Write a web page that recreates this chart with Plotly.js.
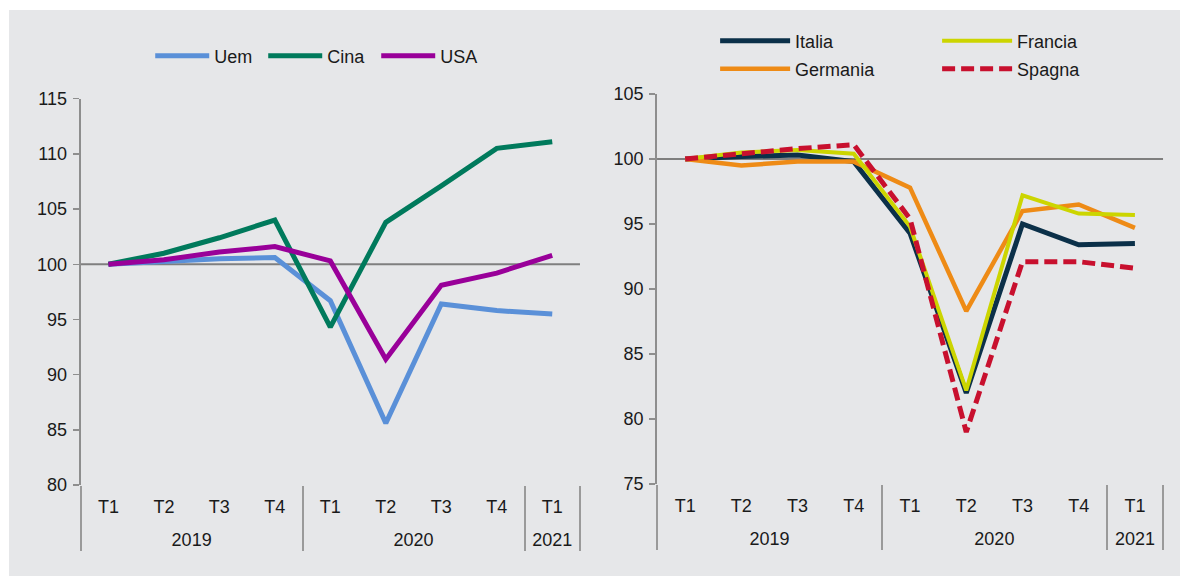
<!DOCTYPE html>
<html><head><meta charset="utf-8">
<script src="https://cdn.plot.ly/plotly-3.0.1.min.js"></script>
<style>
html,body{margin:0;padding:0;background:#ffffff;}
#chart{position:absolute;left:9px;top:10px;width:1171px;height:566px;}
</style></head><body><div id="chart"></div>
<script>
const years = ['2019','2019','2019','2019','2020','2020','2020','2020','2021'];
const quarters = ['T1','T2','T3','T4','T1','T2','T3','T4','T1'];
const uem = [100, 100.3, 100.5, 100.6, 96.7, 85.6, 96.4, 95.8, 95.5];
const cina = [100, 101.0, 102.4, 104.0, 94.3, 103.8, 107.1, 110.5, 111.1];
const usa = [100, 100.4, 101.1, 101.6, 100.3, 91.4, 98.1, 99.2, 100.8];
const italia = [100, 100.2, 100.3, 99.8, 94.3, 82.0, 95.0, 93.4, 93.5];
const francia = [100, 100.5, 100.7, 100.4, 94.8, 82.2, 97.2, 95.8, 95.7];
const germania = [100, 99.5, 99.8, 99.8, 97.8, 88.3, 96.0, 96.5, 94.7];
const spagna = [100, 100.4, 100.8, 101.1, 95.4, 79.0, 92.1, 92.1, 91.6];
const baseline = 100;

// category positions on the axis
const idx = quarters.map((q, i) => i);
const yearNames = [...new Set(years)];
const yearCenters = yearNames.map(yr => {
  const ii = idx.filter(i => years[i] === yr);
  return (ii[0] + ii[ii.length - 1]) / 2;
});
const bounds = [-0.5];
for (let i = 1; i < years.length; i++) if (years[i] !== years[i-1]) bounds.push(i - 0.5);
bounds.push(years.length - 0.5);
const xr = [-0.5, years.length - 0.5];

function tr(name, y, color, width, xa, ya, legend, dash) {
  return {type:'scatter', mode:'lines', name:name, x:idx, y:y, xaxis:xa, yaxis:ya, legend:legend,
    line:{color:color, width:width, dash:dash||'solid'}, hoverinfo:'skip'};
}
const data = [
  tr('Uem', uem, '#5a90d8', 5, 'x', 'y', 'legend'),
  tr('Cina', cina, '#007a5c', 5, 'x', 'y', 'legend'),
  tr('USA', usa, '#990099', 5, 'x3', 'y', 'legend'),
  tr('Italia', italia, '#0b3049', 5, 'x2', 'y2', 'legend2'),
  tr('Germania', germania, '#ee8b16', 4.5, 'x2', 'y2', 'legend3'),
  tr('Francia', francia, '#ccd500', 4, 'x2', 'y2', 'legend2'),
  tr('Spagna', spagna, '#c8102e', 5, 'x4', 'y2', 'legend3', '13px,6px')
];
const axisGrey = '#8e8e8e';
const qAxis = {type:'linear', range:xr, tickmode:'array', tickvals:idx, ticktext:quarters,
  showline:false, showgrid:false, zeroline:false,
  ticks:'outside', ticklen:5, tickcolor:'rgba(0,0,0,0)', tickfont:{size:18},
  automargin:false, fixedrange:true};
const yrAxis = {type:'linear', range:xr, tickmode:'array', tickvals:yearCenters, ticktext:yearNames,
  showline:false, showgrid:false, zeroline:false,
  ticks:'outside', ticklen:38, tickcolor:'rgba(0,0,0,0)', tickfont:{size:18},
  minor:{tickmode:'array', tickvals:bounds, ticks:'outside', ticklen:65, tickwidth:2, tickcolor:'#9a9a9a', showgrid:false},
  automargin:false, fixedrange:true};
const ycommon = {dtick:5, showline:true, linecolor:axisGrey, linewidth:2, ticks:'outside',
  ticklen:6, tickwidth:1.5, tickcolor:axisGrey, showgrid:false, zeroline:false,
  tickfont:{size:18}, automargin:false, fixedrange:true, ticklabelstandoff:2};
const legcommon = {orientation:'h', bgcolor:'rgba(0,0,0,0)', borderwidth:0,
  font:{size:18}, xanchor:'left', yanchor:'middle', entrywidthmode:'pixels'};
const layout = {
  width:1171, height:566,
  margin:{l:0, r:0, t:0, b:0},
  paper_bgcolor:'#e6e7e9', plot_bgcolor:'rgba(0,0,0,0)',
  font:{family:'"Liberation Sans", Arial, sans-serif', size:18, color:'#1a1a1a'},
  xaxis: Object.assign({}, qAxis, {domain:[0.0612, 0.4876], anchor:'y'}),
  xaxis3: Object.assign({}, yrAxis, {anchor:'y', overlaying:'x', side:'bottom'}),
  yaxis: Object.assign({}, ycommon, {domain:[0.1608, 0.8433], range:[80,115], tick0:80, anchor:'x'}),
  xaxis2: Object.assign({}, qAxis, {domain:[0.5534, 0.9855], anchor:'y2'}),
  xaxis4: Object.assign({}, yrAxis, {anchor:'y2', overlaying:'x2', side:'bottom'}),
  yaxis2: Object.assign({}, ycommon, {domain:[0.1625, 0.8516], range:[75,105], tick0:75, anchor:'x2'}),
  legend: Object.assign({}, legcommon, {x:0.1206, y:0.9187, entrywidth:44, itemwidth:54}),
  legend2: Object.assign({}, legcommon, {x:0.6030, y:0.9452, entrywidth:137, itemwidth:70}),
  legend3: Object.assign({}, legcommon, {x:0.6030, y:0.8958, entrywidth:137, itemwidth:70}),
  shapes:[
    {type:'line', xref:'x domain', yref:'y', x0:0, x1:1, y0:baseline, y1:baseline, line:{color:'#7f7f7f', width:2}, layer:'below'},
    {type:'line', xref:'x2 domain', yref:'y2', x0:0, x1:1, y0:baseline, y1:baseline, line:{color:'#7f7f7f', width:2}, layer:'below'}
  ]
};
Plotly.newPlot('chart', data, layout, {displayModeBar:false, staticPlot:true});
</script></body></html>
